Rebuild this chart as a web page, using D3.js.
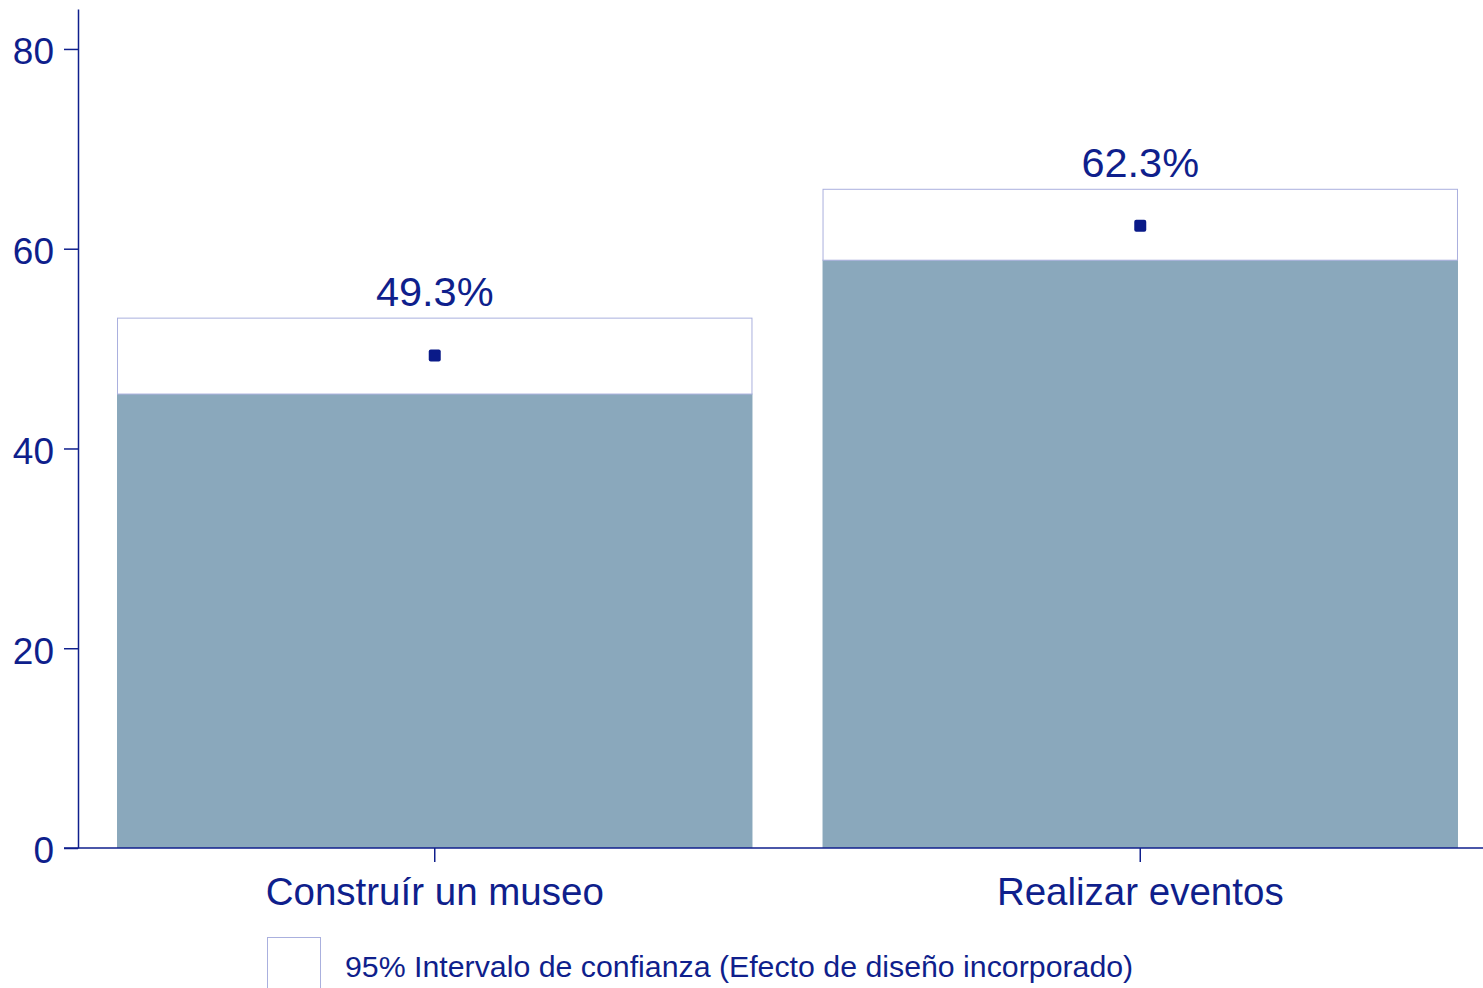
<!DOCTYPE html>
<html>
<head>
<meta charset="utf-8">
<script src="https://cdn.jsdelivr.net/npm/d3@7"></script>
<style>
	body { margin: 0; background: #fff; }
	svg { display: block; font-family: "Liberation Sans", Arial, sans-serif; }
</style>
</head>
<body>
<div id="chart"></div>
<script>

var categories = ["Construír un museo", "Realizar eventos"];
var estimates = [49.3, 62.3];
var ciLower = [45.5, 58.9];
var ciUpper = [53.1, 66.0];
var yTicks = [0, 20, 40, 60, 80];
var legendLabel = "95% Intervalo de confianza (Efecto de diseño incorporado)";

var WIDTH = 1483;
var HEIGHT = 988;
var TEXT = "#0f1f8c";
var BAR = "#8aa8bc";
var CI_BORDER = "#aab0de";

var data = categories.map(function(c, i){
	return {"cat": c, "est": estimates[i], "lo": ciLower[i], "hi": ciUpper[i]};
});

var svg = d3.select("#chart")
	.append("svg")
	.attr("width", WIDTH)
	.attr("height", HEIGHT);

var y = d3.scaleLinear().domain([0, 84]).range([848, 9]);
var x = d3.scaleBand()
	.domain(categories)
	.range([78, 1497])
	.paddingInner(0.0993)
	.paddingOuter(0.0553);

//GREY BAR UP TO LOWER BOUND
svg.selectAll("rect.bar")
	.data(data)
	.enter()
	.append("rect")
	.attr("class", "bar")
	.attr("x", function(d){ return x(d.cat); })
	.attr("y", function(d){ return y(d.lo); })
	.attr("width", x.bandwidth())
	.attr("height", function(d){ return y(0) - y(d.lo); })
	.attr("fill", BAR);

//CONFIDENCE INTERVAL BOX
svg.selectAll("rect.ci")
	.data(data)
	.enter()
	.append("rect")
	.attr("class", "ci")
	.attr("x", function(d){ return x(d.cat) + 0.5; })
	.attr("y", function(d){ return y(d.hi) + 0.5; })
	.attr("width", x.bandwidth() - 1)
	.attr("height", function(d){ return y(d.lo) - y(d.hi); })
	.attr("fill", "#fff")
	.attr("stroke", CI_BORDER)
	.attr("stroke-width", 1);

//POINT ESTIMATE
svg.selectAll("rect.pt")
	.data(data)
	.enter()
	.append("rect")
	.attr("class", "pt")
	.attr("x", function(d){ return x(d.cat) + x.bandwidth() / 2 - 6; })
	.attr("y", function(d){ return y(d.est) - 6; })
	.attr("width", 12)
	.attr("height", 12)
	.attr("rx", 2)
	.attr("fill", "#0a1a88");

//VALUE LABELS
svg.selectAll("text.val")
	.data(data)
	.enter()
	.append("text")
	.attr("class", "val")
	.attr("x", function(d){ return x(d.cat) + x.bandwidth() / 2; })
	.attr("y", function(d){ return y(d.hi) - 12; })
	.attr("text-anchor", "middle")
	.attr("font-size", 41.5)
	.attr("fill", TEXT)
	.text(function(d){ return d.est.toFixed(1) + "%"; });

//Y AXIS
var yAxis = svg.append("g")
	.attr("transform", "translate(78,0)")
	.call(d3.axisLeft(y).tickValues(yTicks).tickSize(14).tickSizeOuter(0).tickPadding(10));
yAxis.select(".domain").attr("stroke", TEXT).attr("stroke-width", 1.5);
yAxis.selectAll(".tick line").attr("stroke", TEXT).attr("stroke-width", 1.5);
yAxis.selectAll(".tick text")
	.attr("font-size", 37)
	.attr("font-family", "Liberation Sans, Arial, sans-serif")
	.attr("dy", "0.4em")
	.attr("fill", TEXT);

//X AXIS
svg.append("line")
	.attr("x1", 64).attr("x2", WIDTH)
	.attr("y1", y(0)).attr("y2", y(0))
	.attr("stroke", TEXT)
	.attr("stroke-width", 1.5);

var xAxis = svg.append("g")
	.attr("transform", "translate(0," + y(0) + ")")
	.call(d3.axisBottom(x).tickSize(14).tickSizeOuter(0).tickPadding(16));
xAxis.select(".domain").remove();
xAxis.selectAll(".tick line").attr("stroke", TEXT).attr("stroke-width", 1.5);
xAxis.selectAll(".tick text")
	.attr("font-size", 38.5)
	.attr("font-family", "Liberation Sans, Arial, sans-serif")
	.attr("fill", TEXT);

//LEGEND
svg.append("rect")
	.attr("x", 267.5)
	.attr("y", 937.5)
	.attr("width", 53)
	.attr("height", 70)
	.attr("fill", "#fff")
	.attr("stroke", CI_BORDER);

svg.append("text")
	.attr("x", 345)
	.attr("y", 977)
	.attr("font-size", 30.3)
	.attr("fill", TEXT)
	.text(legendLabel);

</script>
</body>
</html>
